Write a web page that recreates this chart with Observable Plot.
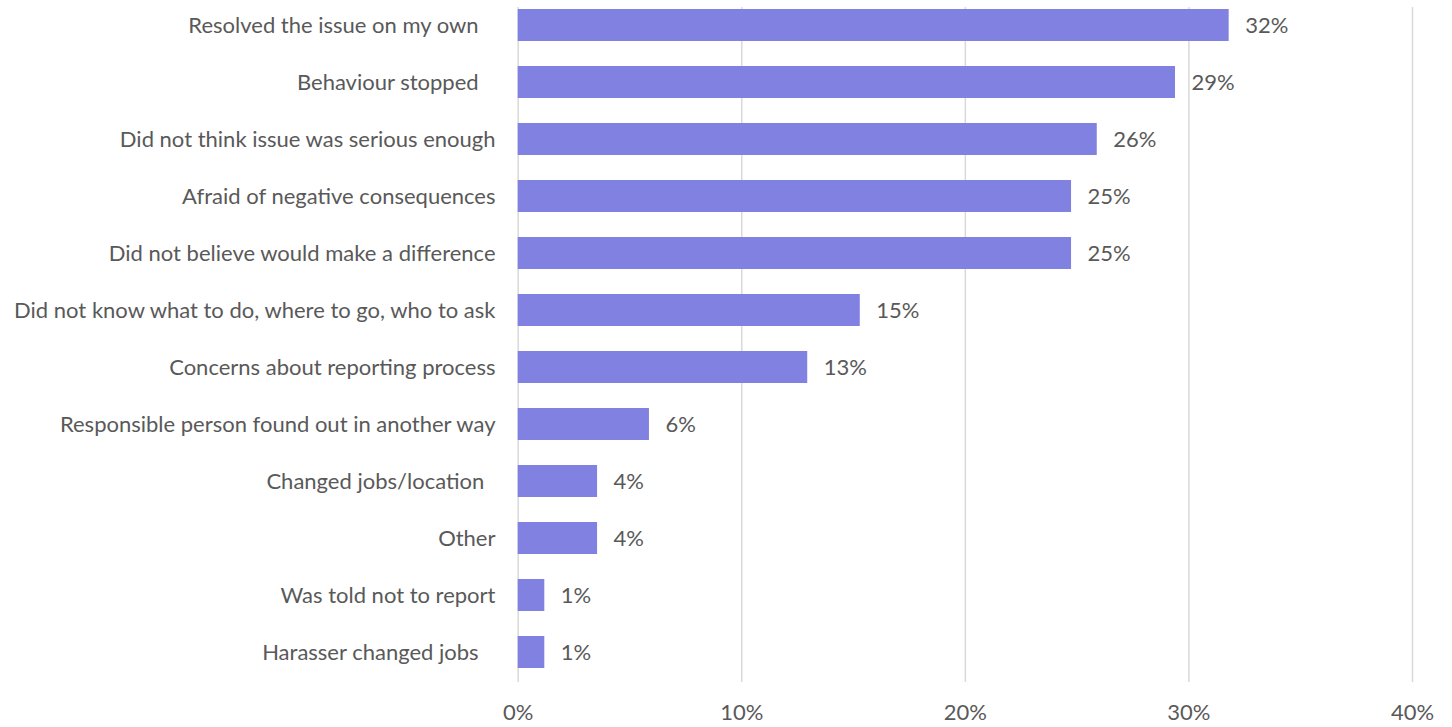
<!DOCTYPE html>
<html><head><meta charset="utf-8">
<script src="https://cdn.jsdelivr.net/npm/d3@7"></script>
<script src="https://cdn.jsdelivr.net/npm/@observablehq/plot@0.6"></script>
<style>
html,body{margin:0;padding:0;background:#fff;}
svg text{white-space:pre;}
</style></head><body><div id="chart"></div>
<script>
const categories = [
  "Resolved the issue on my own   ",
  "Behaviour stopped   ",
  "Did not think issue was serious enough",
  "Afraid of negative consequences",
  "Did not believe would make a difference",
  "Did not know what to do, where to go, who to ask",
  "Concerns about reporting process",
  "Responsible person found out in another way",
  "Changed jobs/location  ",
  "Other",
  "Was told not to report",
  "Harasser changed jobs   "
];
const values = [31.8, 29.4, 25.9, 24.75, 24.75, 15.3, 12.95, 5.87, 3.55, 3.55, 1.19, 1.19];
const xTicks = [0, 10, 20, 30, 40];

const data = categories.map((c, i) => ({category: c, value: values[i]}));

const chart = Plot.plot({
  width: 1452,
  height: 727,
  marginLeft: 518,
  marginRight: 40,
  marginTop: 7,
  marginBottom: 45,
  style: {fontFamily: "Lato, 'Open Sans', sans-serif", fontSize: "22px", color: "#595959", background: "#fff"},
  x: {domain: [0, 40], range: [517.7, 1412], ticks: xTicks, tickFormat: d => d + "%", tickSize: 0, tickPadding: 22, label: null},
  y: {domain: categories, range: [-4.5, 682.5], paddingInner: 0.436, paddingOuter: 0.218, tickSize: 0, tickPadding: 23, label: null},
  marks: [
    Plot.ruleX(xTicks, {stroke: "#d9d9d9", strokeWidth: 1.5}),
    Plot.barX(data, {x: "value", y: "category", fill: "#8181e1"}),
    Plot.text(data, {x: "value", y: "category", text: d => Math.round(d.value) + "%", textAnchor: "start", dx: 16, fill: "#595959"})
  ]
});
document.getElementById("chart").appendChild(chart);
</script></body></html>
